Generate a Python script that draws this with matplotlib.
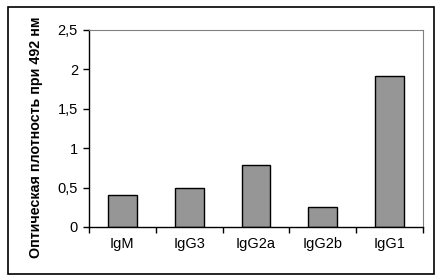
import matplotlib.pyplot as plt
import matplotlib.ticker as mticker
from matplotlib.patches import Rectangle
import numpy as np

categories = ['IgM', 'IgG3', 'IgG2a', 'IgG2b', 'IgG1']
values = [0.40, 0.49, 0.79, 0.25, 1.92]
y_ticks = [0, 0.5, 1, 1.5, 2, 2.5]

plt.rcParams['font.family'] = ['Liberation Sans', 'DejaVu Sans']

fig = plt.figure(figsize=(4.43, 2.80), dpi=100)
ax = fig.add_axes([89 / 443, 1 - 227 / 280, (423 - 89) / 443, (227 - 30) / 280])

# outer chart frame
fig.patches.append(Rectangle((7.5 / 443, 1 - 274 / 280), (434 - 7.5) / 443, (274 - 7) / 280,
                             transform=fig.transFigure, fill=False, edgecolor='black', linewidth=1.2))

x = np.arange(len(categories))
ax.bar(x, values, width=0.43, color='#969696', edgecolor='black', linewidth=1)

ax.set_xlim(-0.5, len(categories) - 0.5)
ax.set_ylim(0, 2.5)
ax.set_yticks(y_ticks)
ax.yaxis.set_major_formatter(mticker.FuncFormatter(lambda v, p: ('%g' % v).replace('.', ',')))

# x ticks between categories, labels centred under bars
ax.set_xticks(np.arange(-0.5, len(categories), 1))
ax.set_xticklabels([])
ax.set_xticks(x, minor=True)
ax.set_xticklabels(categories, minor=True)
ax.tick_params(axis='x', which='minor', length=0, pad=7, labelsize=10.5)
ax.tick_params(axis='x', which='major', length=4, direction='out', width=1)
ax.tick_params(axis='y', length=4, direction='out', width=1, labelsize=10.5, pad=4)

for s in ['top', 'right']:
    ax.spines[s].set_color('#808080')
for s in ['left', 'bottom']:
    ax.spines[s].set_color('black')
    ax.spines[s].set_linewidth(1)

ax.set_ylabel('Оптическая плотность при 492 нм', fontsize=10.3, fontweight='bold',
              va='center')
ax.yaxis.set_label_coords(-0.159, 0.457)

plt.savefig('out.png', dpi=100)
plt.close()
